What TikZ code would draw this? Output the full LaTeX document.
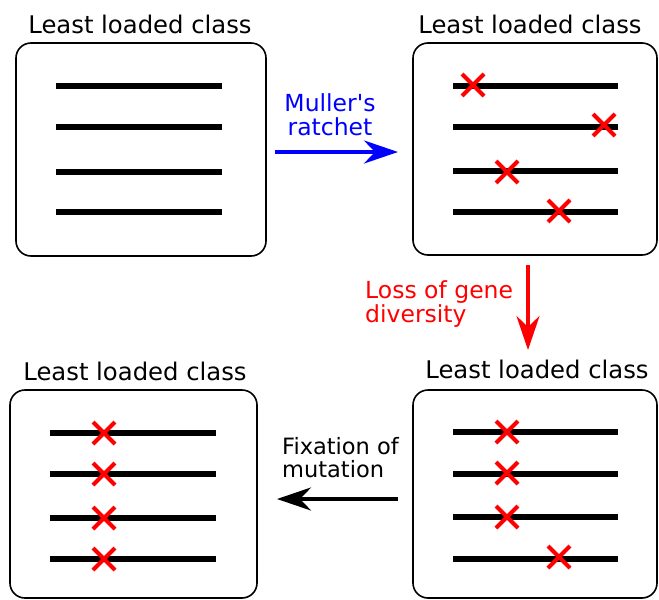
\documentclass[tikz,border=0pt]{standalone}
\usepackage{fontspec}
\setmainfont{DejaVu Sans}[Ligatures=TeXOff]
\usetikzlibrary{arrows.meta}

\tikzset{
  panel/.style={draw, line width=1.6pt, rounded corners=15pt, inner sep=0pt},
  strand/.style={line width=6pt},
  title/.style={font=\fontsize{24.3}{28}\selectfont, anchor=base, inner sep=0pt},
  label/.style={font=\fontsize{23.5}{23.5}\selectfont, inner sep=0pt},
  flow/.style={line width=4pt, -{Stealth[length=34pt, width=23pt, inset=11pt]}},
  mut/.pic={\draw[red, line width=4pt] (-11,-11) -- (11,11) (-11,11) -- (11,-11);}
}

\begin{document}
\begin{tikzpicture}[x=1pt, y=-1pt]
\useasboundingbox (0,0) rectangle (659,600);

% the four panels
\node[panel, minimum width=250pt, minimum height=213pt] (p1) at (141,149.5) {};
\node[panel, minimum width=244pt, minimum height=212pt] (p2) at (535,149) {};
\node[panel, minimum width=247pt, minimum height=208pt] (p3) at (133.5,494) {};
\node[panel, minimum width=244pt, minimum height=208pt] (p4) at (535,494) {};

% titles
\node[title] (t1) at (140,33) {Least loaded class};
\node[title] (t2) at (530,33) {Least loaded class};
\node[title] (t3) at (135,380) {Least loaded class};
\node[title] (t4) at (537,378) {Least loaded class};

% chromosomes
\foreach \y in {86,127,172,212} \draw[strand] (56,\y) -- (222,\y);
\foreach \y in {86,127,171,212} \draw[strand] (453,\y) -- (618,\y);
\foreach \y in {433,474,518,559} \draw[strand] (50,\y) -- (216,\y);
\foreach \y in {432,474,517,559} \draw[strand] (453,\y) -- (618,\y);

% mutations
\pic at (473,85) {mut};
\pic at (604,125) {mut};
\pic at (507,172) {mut};
\pic at (559,211) {mut};

\foreach \y in {433,474,518,559} \pic at (104,\y) {mut};

\pic at (507,432) {mut};
\pic at (507,473) {mut};
\pic at (507,517) {mut};
\pic at (559,557) {mut};

% transitions
\coordinate (a1) at (275,152);
\coordinate (b1) at (398,152);
\draw[flow, blue] (a1) -- (b1);
\node[label, blue, align=center, anchor=base] (l1) at (330,135) {Muller's\\ratchet};

\coordinate (a2) at (528,265);
\coordinate (b2) at (528,350);
\draw[flow, red] (a2) -- (b2);
\node[label, red, align=left, anchor=base west] (l2) at (365,322) {Loss of gene\\diversity};

\coordinate (a3) at (398,499);
\coordinate (b3) at (277,499);
\draw[flow, black] (a3) -- (b3);
\node[label, align=left, anchor=base west, font=\fontsize{22.5}{22.5}\selectfont] (l3) at (282,477) {Fixation of\\mutation};
\end{tikzpicture}
\end{document}
